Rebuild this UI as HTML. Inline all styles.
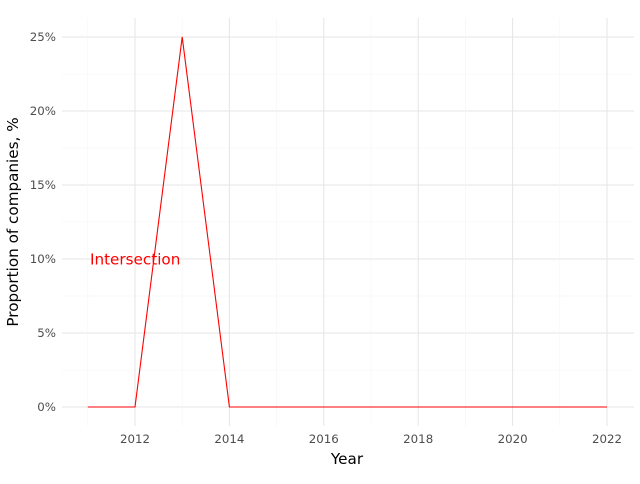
<!DOCTYPE html>
<html><head><meta charset="utf-8"><style>
body{margin:0;background:#fff;font-family:"DejaVu Sans","Liberation Sans",sans-serif}
</style></head><body>
<svg width="640" height="480" xmlns="http://www.w3.org/2000/svg" id="chart" font-family="DejaVu Sans, Liberation Sans, sans-serif">
<rect width="640" height="480" fill="#fff"/>
<g id="grid"></g>
<g id="marks"></g>
<g id="axes"></g>
<text x="90" y="264.5" fill="#ff0000" font-size="15.2">Intersection</text>
<text x="347" y="464" text-anchor="middle" font-size="15.2" fill="#000">Year</text>
<text x="18" y="222" text-anchor="middle" font-size="15.2" fill="#000" transform="rotate(-90 18 222)">Proportion of companies, %</text>
</svg>
<script>
const years=[2011,2012,2013,2014,2015,2016,2017,2018,2019,2020,2021,2022];
const values=[0,0,25,0,0,0,0,0,0,0,0,0];
const xTicks=[2012,2014,2016,2018,2020,2022];
const yTicks=[0,5,10,15,20,25];
const ns="http://www.w3.org/2000/svg";
const X=v=>135+(v-2012)*47.2;
const Y=v=>407-v*14.8;
const L=62,R=634,T=18,B=426;
const grid=document.getElementById('grid'),axes=document.getElementById('axes'),marks=document.getElementById('marks');
function ln(p,x1,y1,x2,y2,c,w){const e=document.createElementNS(ns,'line');e.setAttribute('x1',x1);e.setAttribute('y1',y1);e.setAttribute('x2',x2);e.setAttribute('y2',y2);e.setAttribute('stroke',c);e.setAttribute('stroke-width',w);p.appendChild(e);return e;}
for(let v=-2.5;v<=27.5;v+=2.5){const y=Y(v);if(y<T||y>B)continue;const major=v%5===0;
const g=ln(grid,L,y,R,y,major?'#e5e5e5':'#f4f4f4',major?1:0.6);

}
for(let v=2011;v<=2023;v++){const x=X(v);if(x<L||x>R)continue;const major=v%2===0;
const g=ln(grid,x,T,x,B,major?'#e5e5e5':'#f4f4f4',major?1:0.6);

}
yTicks.forEach(v=>{const t=document.createElementNS(ns,'text');t.setAttribute('x',56);t.setAttribute('y',Y(v)+4.2);t.setAttribute('text-anchor','end');t.setAttribute('font-size','11.8');t.setAttribute('fill','#4d4d4d');t.textContent=v+'%';


axes.appendChild(t);});
xTicks.forEach(v=>{const t=document.createElementNS(ns,'text');t.setAttribute('x',X(v));t.setAttribute('y',443);t.setAttribute('text-anchor','middle');t.setAttribute('font-size','11.8');t.setAttribute('fill','#4d4d4d');t.textContent=v;


axes.appendChild(t);});
const p=document.createElementNS(ns,'polyline');
p.setAttribute('points',years.map((y,i)=>X(y)+','+Y(values[i])).join(' '));
p.setAttribute('fill','none');p.setAttribute('stroke','#ff0000');p.setAttribute('stroke-width','1.1');


marks.appendChild(p);
</script>
</body></html>
